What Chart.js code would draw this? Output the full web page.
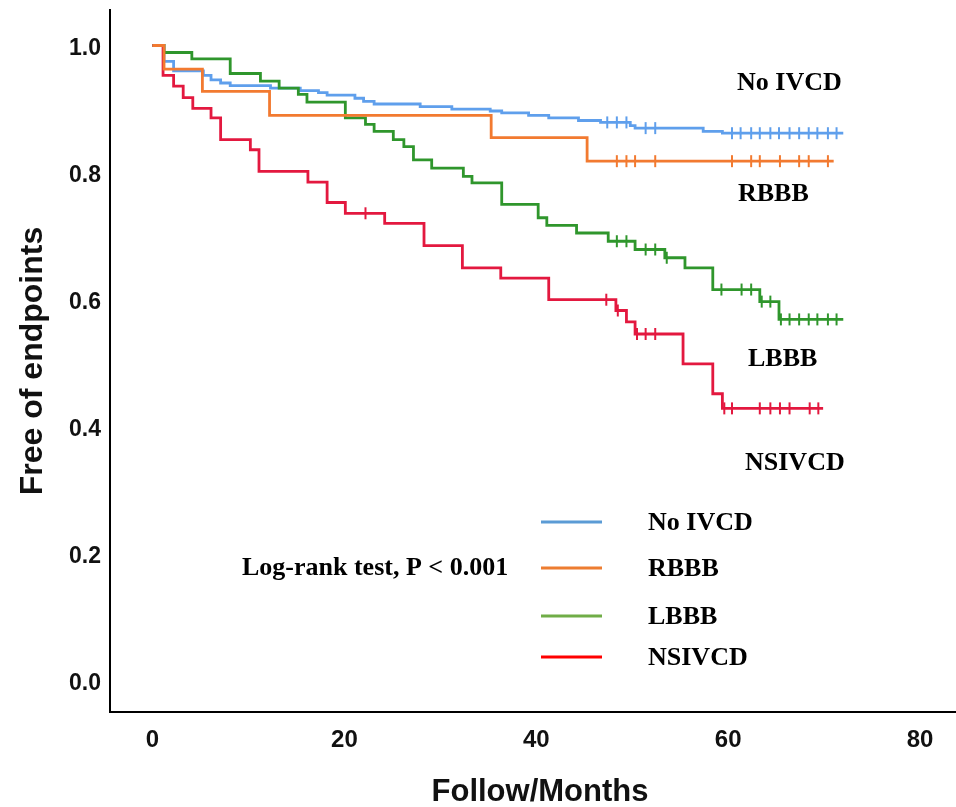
<!DOCTYPE html>
<html>
<head>
<meta charset="utf-8">
<script src="https://cdn.jsdelivr.net/npm/chart.js@4.4.1/dist/chart.umd.min.js"></script>
<style>
html,body{margin:0;padding:0;background:#fff;}
#wrap{width:956px;height:807px;position:relative;}
</style>
</head>
<body>
<div id="wrap"><canvas id="c" width="956" height="807"></canvas></div>
<script>
// ---- data (Kaplan-Meier steps) ----
const groupNames = ["No IVCD", "RBBB", "LBBB", "NSIVCD"];

const noIvcdTimes = [0, 1.2, 2.2, 5.3, 6.1, 7.1, 8.1, 12.3, 15.4, 17.3, 18.2, 21.1, 22.0, 23.1, 27.9, 31.2, 35.2, 36.4, 39.2, 41.3, 44.4, 46.7, 49.8, 50.3, 57.4, 59.4, 72.0];
const noIvcdSurv  = [1.0, 0.975, 0.960, 0.953, 0.946, 0.941, 0.937, 0.933, 0.929, 0.926, 0.922, 0.917, 0.912, 0.908, 0.904, 0.900, 0.897, 0.894, 0.890, 0.886, 0.882, 0.879, 0.874, 0.870, 0.865, 0.862, 0.862];
const noIvcdCensor = [47.4, 48.4, 49.4, 51.4, 52.4, 60.4, 61.3, 62.4, 63.3, 64.4, 65.3, 66.4, 67.4, 68.4, 69.3, 70.4, 71.3];

const rbbbTimes = [0, 1.2, 5.2, 12.2, 35.3, 45.3, 71.0];
const rbbbSurv  = [1.0, 0.963, 0.928, 0.890, 0.855, 0.818, 0.818];
const rbbbCensor = [48.4, 49.4, 50.3, 52.4, 60.4, 62.4, 63.3, 65.4, 67.4, 68.4, 70.4];

const lbbbTimes = [0, 1.2, 4.1, 8.1, 11.25, 13.2, 15.2, 16.1, 20.1, 22.2, 23.1, 25.1, 26.2, 27.2, 29.1, 32.4, 33.3, 36.4, 40.2, 41.1, 44.2, 47.5, 50.3, 53.4, 55.5, 58.4, 63.3, 65.3, 72.0];
const lbbbSurv  = [1.0, 0.989, 0.979, 0.956, 0.944, 0.933, 0.923, 0.911, 0.886, 0.876, 0.865, 0.852, 0.841, 0.820, 0.807, 0.794, 0.784, 0.750, 0.729, 0.717, 0.705, 0.692, 0.679, 0.666, 0.650, 0.616, 0.597, 0.569, 0.569];
const lbbbCensor = [48.4, 49.4, 51.4, 52.4, 53.6, 59.3, 61.4, 62.4, 63.5, 64.4, 65.5, 66.4, 67.4, 68.4, 69.3, 70.4, 71.3];

const nsivcdTimes = [0, 1.1, 2.2, 3.2, 4.2, 6.1, 7.1, 10.2, 11.1, 16.2, 18.2, 20.1, 24.2, 28.3, 32.3, 36.3, 41.3, 48.3, 49.4, 50.3, 55.3, 58.4, 59.4, 69.9];
const nsivcdSurv  = [1.0, 0.953, 0.936, 0.918, 0.901, 0.886, 0.852, 0.836, 0.802, 0.785, 0.753, 0.736, 0.720, 0.685, 0.650, 0.634, 0.600, 0.583, 0.565, 0.546, 0.499, 0.452, 0.429, 0.429];
const nsivcdCensor = [22.2, 47.3, 48.5, 50.5, 51.4, 52.4, 59.6, 60.4, 63.3, 64.4, 65.4, 66.4, 68.5, 69.4];

const xTickValues = [0, 20, 40, 60, 80];
const yTickValues = [0.0, 0.2, 0.4, 0.6, 0.8, 1.0];

const xAxisTitle = "Follow/Months";
const yAxisTitle = "Free of endpoints";
const testText = "Log-rank test, P < 0.001";

// ---- styles ----
const curveColors  = ["#5f9fec", "#f27a30", "#2f962c", "#e3183f"];
const legendColors = ["#5b9bd5", "#ed7d31", "#70ad47", "#ff0000"];

function stepValue(times, surv, t) {
  let v = surv[0];
  for (let i = 0; i < times.length; i++) { if (times[i] <= t) v = surv[i]; }
  return v;
}
function toPoints(times, vals) { return times.map((t, i) => ({x: t, y: vals[i]})); }
function censorPoints(times, surv, cens) { return cens.map(t => ({x: t, y: stepValue(times, surv, t)})); }

const groups = [
  [noIvcdTimes, noIvcdSurv, noIvcdCensor],
  [rbbbTimes, rbbbSurv, rbbbCensor],
  [lbbbTimes, lbbbSurv, lbbbCensor],
  [nsivcdTimes, nsivcdSurv, nsivcdCensor]
];
const drawOrder = [3, 0, 2, 1];

const datasets = [];
groups.forEach((g, i) => {
  datasets.push({
    label: groupNames[i],
    data: toPoints(g[0], g[1]),
    showLine: true,
    stepped: 'before',
    borderColor: curveColors[i],
    backgroundColor: curveColors[i],
    borderWidth: 2.8,
    pointRadius: 0,
    fill: false,
    order: drawOrder[i]
  });
  datasets.push({
    label: groupNames[i] + " censored",
    data: censorPoints(g[0], g[1], g[2]),
    showLine: false,
    pointStyle: 'line',
    rotation: 90,
    pointRadius: 6,
    pointBorderWidth: 2,
    borderColor: curveColors[i],
    backgroundColor: curveColors[i],
    order: drawOrder[i]
  });
});

const annotate = {
  id: 'annotate',
  afterDraw(chart) {
    const ctx = chart.ctx;
    ctx.save();
    ctx.fillStyle = '#111';
    // axis titles
    ctx.textAlign = 'center';
    ctx.textBaseline = 'middle';
    ctx.font = 'bold 31px "Liberation Sans", Arial, sans-serif';
    ctx.fillText(xAxisTitle, 540, 792);
    ctx.save();
    ctx.translate(33, 361);
    ctx.rotate(-Math.PI / 2);
    ctx.font = 'bold 32px "Liberation Sans", Arial, sans-serif';
    ctx.fillText(yAxisTitle, 0, 0);
    ctx.restore();
    // group labels near the curves
    ctx.font = 'bold 26px "Liberation Serif", "Times New Roman", serif';
    ctx.textAlign = 'left';
    ctx.fillStyle = '#000';
    ctx.fillText(groupNames[0], 737, 83);
    ctx.fillText(groupNames[1], 738, 194);
    ctx.fillText(groupNames[2], 748, 359);
    ctx.fillText(groupNames[3], 745, 463);
    // log-rank text
    ctx.fillText(testText, 242, 568);
    // legend
    const ly = [522, 568, 616, 657];
    for (let i = 0; i < 4; i++) {
      ctx.strokeStyle = legendColors[i];
      ctx.lineWidth = 3;
      ctx.beginPath();
      ctx.moveTo(541, ly[i]);
      ctx.lineTo(602, ly[i]);
      ctx.stroke();
      ctx.fillText(groupNames[i], 648, ly[i] + 1);
    }
    ctx.restore();
  }
};

new Chart(document.getElementById('c'), {
  type: 'scatter',
  data: { datasets },
  options: {
    responsive: false,
    animation: false,
    events: [],
    layout: { autoPadding: false, padding: { top: 10, right: 0, left: 0, bottom: 0 } },
    plugins: { legend: { display: false }, tooltip: { enabled: false } },
    scales: {
      x: {
        type: 'linear',
        min: -4.43,
        max: 83.75,
        afterBuildTicks: s => { s.ticks = xTickValues.map(v => ({value: v})); },
        afterFit: s => { s.height = 95; s.paddingLeft = 0; s.paddingRight = 0; },
        grid: { display: false, drawTicks: false },
        border: { display: true, color: '#000', width: 2 },
        ticks: {
          padding: 14,
          color: '#111',
          maxRotation: 0,
          font: { family: '"Liberation Sans", Arial, sans-serif', size: 24, weight: 'bold' },
          callback: v => String(v)
        }
      },
      y: {
        type: 'linear',
        min: -0.0488,
        max: 1.0559,
        afterBuildTicks: s => { s.ticks = yTickValues.map(v => ({value: v})); },
        afterFit: s => { s.width = 110; s.paddingTop = 0; s.paddingBottom = 0; },
        grid: { display: false, drawTicks: false },
        border: { display: true, color: '#000', width: 2 },
        ticks: {
          padding: 9,
          labelOffset: 3,
          color: '#111',
          font: { family: '"Liberation Sans", Arial, sans-serif', size: 23, weight: 'bold' },
          callback: v => v.toFixed(1)
        }
      }
    }
  },
  plugins: [annotate]
});
</script>
</body>
</html>
